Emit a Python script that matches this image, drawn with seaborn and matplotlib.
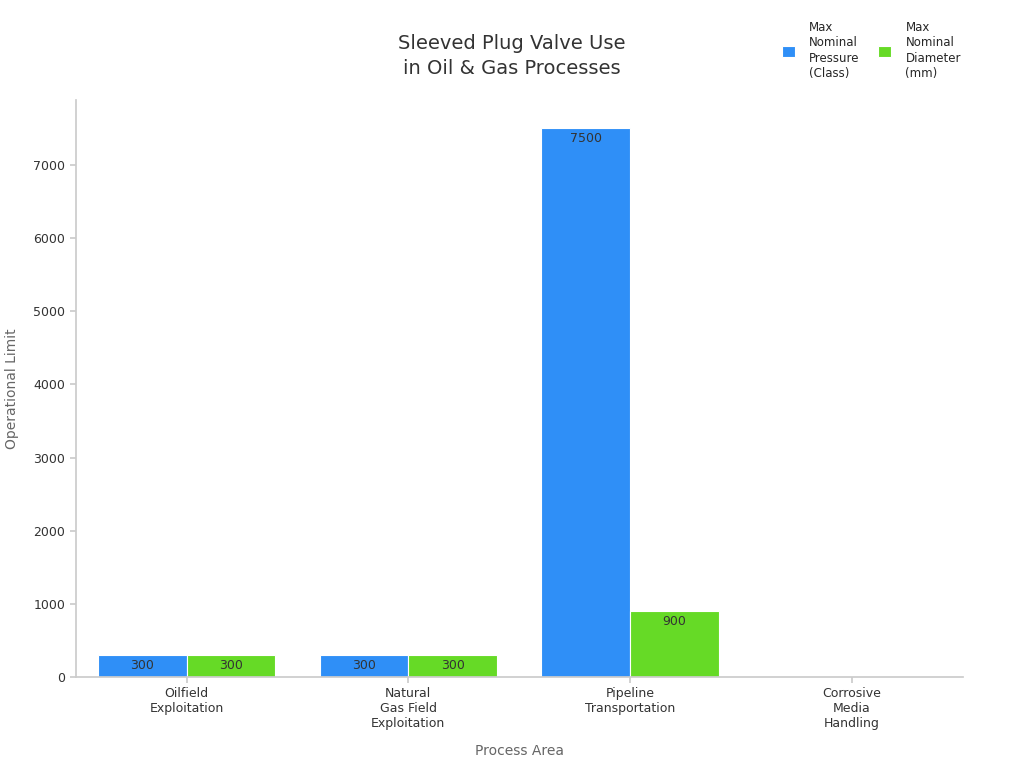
"""
Uso de válvulas de macho com camisa em processos de óleo e gás.
"""

import numpy as np
import pandas as pd
import matplotlib
matplotlib.use("Agg")
import matplotlib.pyplot as plt
import seaborn as sns

# Dados
areas = ["Oilfield\nExploitation", "Natural\nGas Field\nExploitation",
         "Pipeline\nTransportation", "Corrosive\nMedia\nHandling"]
pressao_max = [300, 300, 7500, np.nan]
diametro_max = [300, 300, 900, np.nan]
series = ["Max\nNominal\nPressure\n(Class)", "Max\nNominal\nDiameter\n(mm)"]

CORES = {
    "pressao": "#2F8FF7",
    "diametro": "#66DA26",
    "eixo": "#CCCCCC",
    "texto": "#333333",
    "rotulo": "#666666",
}

df = pd.DataFrame({
    "area": areas * 2,
    "serie": [series[0]] * len(areas) + [series[1]] * len(areas),
    "valor": pressao_max + diametro_max,
})

sns.set_theme(style="white")
plt.rcParams["font.family"] = ["DejaVu Sans"]

fig = plt.figure(figsize=(10.24, 7.68), dpi=100)
ax = fig.add_axes([0.074, 0.1185, 0.866, 0.7515])

sns.barplot(
    data=df, x="area", y="valor", hue="serie",
    palette=[CORES["pressao"], CORES["diametro"]],
    width=0.8, edgecolor="white", linewidth=0.8,
    saturation=1, ax=ax, legend=True,
)

for cont in ax.containers:
    rotulos = ["" if np.isnan(v) else f"{v:.0f}" for v in cont.datavalues]
    ax.bar_label(cont, labels=rotulos, padding=-12, fontsize=9, color=CORES["texto"])

ax.set_xlim(-0.5, 3.5)
ax.set_ylim(0, 7890)
ax.set_yticks(range(0, 8000, 1000))
ax.set_xlabel("Process Area", fontsize=10, color=CORES["rotulo"], labelpad=10)
ax.set_ylabel("Operational Limit", fontsize=10, color=CORES["rotulo"], labelpad=10)
ax.tick_params(axis="both", labelsize=9, colors=CORES["texto"], length=4,
               color=CORES["eixo"], bottom=True, left=True)

for lado in ["top", "right"]:
    ax.spines[lado].set_visible(False)
for lado in ["left", "bottom"]:
    ax.spines[lado].set_color(CORES["eixo"])

fig.text(0.5, 0.927, "Sleeved Plug Valve Use\nin Oil & Gas Processes",
         ha="center", va="center", fontsize=14, color=CORES["texto"], linespacing=1.4)

leg = ax.legend(title=None, frameon=False, ncol=2, fontsize=8.5,
                loc="upper left", bbox_to_anchor=(0.753, 0.987),
                bbox_transform=fig.transFigure, handlelength=1.1, handleheight=1.1,
                columnspacing=1.6, handletextpad=1.2)
for t in leg.get_texts():
    t.set_linespacing(1.25)

fig.savefig("out.png", dpi=100)
